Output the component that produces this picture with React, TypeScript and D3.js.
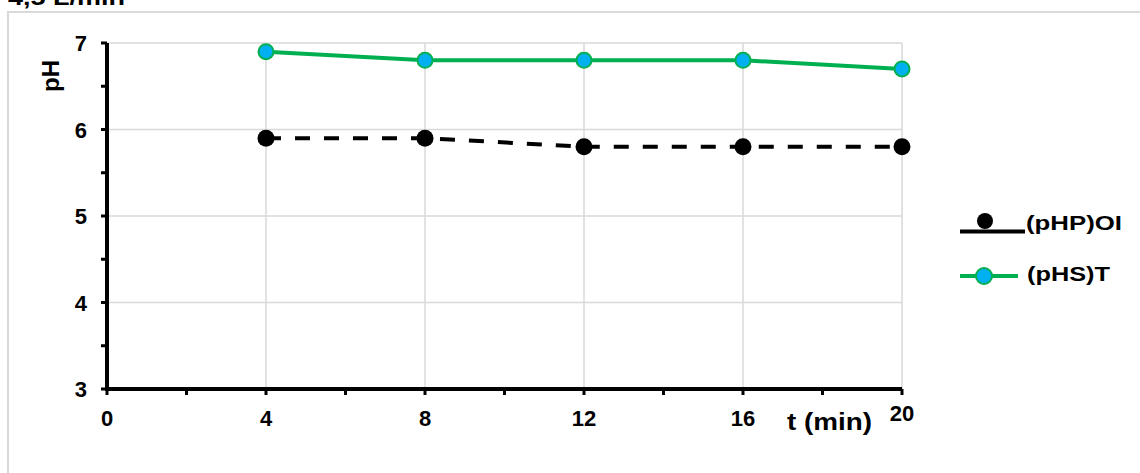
import React from "react";
import * as d3 from "d3";

const times = [4, 8, 12, 16, 20];
const oiValues = [5.9, 5.9, 5.8, 5.8, 5.8];
const tValues = [6.9, 6.8, 6.8, 6.8, 6.7];
const xTicks = [0, 4, 8, 12, 16, 20];
const yTicks = [3, 4, 5, 6, 7];
const seriesNames = ["(pHP)OI", "(pHS)T"];
const title = "4,5 L/min";

export default function App() {
  const W = 1140, H = 473;
  const x = d3.scaleLinear().domain([0, 20]).range([107, 902]);
  const y = d3.scaleLinear().domain([3, 7]).range([389, 43]);
  const line = d3.line<number>().x((_, i) => x(times[i])).y((v) => y(v));
  const minorX = d3.range(0, 21, 2);
  const minorY = d3.range(3, 7.01, 0.5);
  const font = "Liberation Sans, Arial, sans-serif";
  return (
    <svg width={W} height={H} style={{ position: "absolute", left: 0, top: 0 }} fontFamily={font}>
      <rect x={0} y={0} width={W} height={H} fill="#fff" />
      <rect x={8} y={12} width={W + 20} height={H + 20} fill="none" stroke="#d9d9d9" strokeWidth={2} />
      <text x={8} y={5} fontSize={22} fontWeight="bold" textLength={117} lengthAdjust="spacingAndGlyphs">{title}</text>
      {/* grid */}
      {yTicks.filter((t) => t > 3).map((t) => (
        <line key={"gy" + t} x1={x(0)} x2={x(20)} y1={y(t)} y2={y(t)} stroke="#d9d9d9" strokeWidth={1.5} />
      ))}
      {xTicks.filter((t) => t > 0).map((t) => (
        <line key={"gx" + t} x1={x(t)} x2={x(t)} y1={y(7)} y2={y(3)} stroke="#d9d9d9" strokeWidth={1.5} />
      ))}
      {/* axes */}
      <line x1={x(0)} x2={x(0)} y1={y(7)} y2={y(3) + 2} stroke="#000" strokeWidth={4} />
      <line x1={x(0)} x2={x(20)} y1={y(3)} y2={y(3)} stroke="#000" strokeWidth={4} />
      {minorY.map((t) => (
        <line key={"ty" + t} x1={x(0) - 6} x2={x(0)} y1={y(t)} y2={y(t)} stroke="#000" strokeWidth={3} />
      ))}
      {minorX.map((t) => (
        <line key={"tx" + t} x1={x(t)} x2={x(t)} y1={y(3)} y2={y(3) + 6} stroke="#000" strokeWidth={3} />
      ))}
      {yTicks.map((t) => (
        <text key={"ly" + t} x={87} y={y(t) + 8} fontSize={22} fontWeight="bold" textAnchor="end">{t}</text>
      ))}
      {xTicks.map((t) => (
        <text key={"lx" + t} x={x(t)} y={t === 20 ? 421 : 426} fontSize={22} fontWeight="bold" textAnchor="middle">{t}</text>
      ))}
      <text x={787} y={430} fontSize={23} fontWeight="bold" textLength={85} lengthAdjust="spacingAndGlyphs">t (min)</text>
      <text transform={`translate(59,76) rotate(-90)`} fontSize={23} fontWeight="bold" textAnchor="middle" textLength={32} lengthAdjust="spacingAndGlyphs">pH</text>
      {/* series */}
      <path d={line(oiValues) || ""} fill="none" stroke="#000" strokeWidth={4} strokeDasharray="15,14" />
      {oiValues.map((v, i) => (
        <circle key={"oi" + i} cx={x(times[i])} cy={y(v)} r={8.5} fill="#000" />
      ))}
      <path d={line(tValues) || ""} fill="none" stroke="#00B050" strokeWidth={4} />
      {tValues.map((v, i) => (
        <circle key={"t" + i} cx={x(times[i])} cy={y(v)} r={7.5} fill="#00B0F0" stroke="#00B050" strokeWidth={2} />
      ))}
      {/* legend */}
      <line x1={960} x2={1025} y1={231.5} y2={231.5} stroke="#000" strokeWidth={4} />
      <circle cx={985} cy={221} r={8} fill="#000" />
      <text x={1026} y={230} fontSize={21} fontWeight="bold" textLength={96} lengthAdjust="spacingAndGlyphs">{seriesNames[0]}</text>
      <line x1={960} x2={1018} y1={276} y2={276} stroke="#00B050" strokeWidth={4} />
      <circle cx={984} cy={276} r={8} fill="#00B0F0" stroke="#00B050" strokeWidth={2} />
      <text x={1027} y={281} fontSize={21} fontWeight="bold" textLength={83} lengthAdjust="spacingAndGlyphs">{seriesNames[1]}</text>
    </svg>
  );
}
